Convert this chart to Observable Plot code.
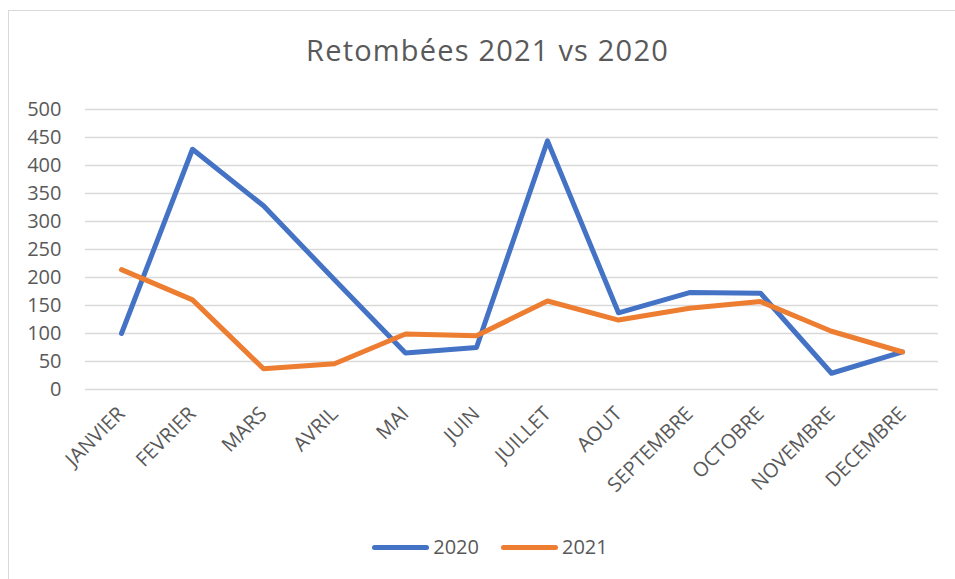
<!DOCTYPE html>
<html>
<head>
<meta charset="utf-8">
<script src="https://cdn.jsdelivr.net/npm/d3@7"></script>
<script src="https://cdn.jsdelivr.net/npm/@observablehq/plot@0.6"></script>
<style>
  html, body { margin: 0; padding: 0; background: #fff; }
  #chart { position: relative; width: 955px; height: 579px; overflow: hidden; font-family: "Open Sans", "Noto Sans", sans-serif; color: #595959; }
  #frame { position: absolute; left: 8px; top: 10px; width: 1000px; height: 700px; border: 1.5px solid #d9d9d9; box-sizing: border-box; }
  #title { position: absolute; left: 0; width: 975px; top: 30px; text-align: center; font-size: 29px; line-height: 40px; letter-spacing: 1.2px; }
  #plot { position: absolute; left: 0; top: 0; }
  #legend { position: absolute; left: 0; width: 980px; top: 533px; display: flex; justify-content: center; align-items: center; font-size: 20px; line-height: 28px; }
  .item { display: flex; align-items: center; margin: 0 11px; }
  .sw { width: 57px; height: 5px; border-radius: 3px; margin-right: 4px; }
</style>
</head>
<body>
<div id="chart">
  <div id="frame"></div>
  <div id="plot"></div>
  <div id="title">Retombées 2021 vs 2020</div>
  <div id="legend"></div>
</div>
<script>
const months = ["JANVIER","FEVRIER","MARS","AVRIL","MAI","JUIN","JUILLET","AOUT","SEPTEMBRE","OCTOBRE","NOVEMBRE","DECEMBRE"];
const series = ["2020","2021"];
const values2020 = [100,429,328,196,65,75,444,137,173,172,29,67];
const values2021 = [214,160,37,46,99,96,158,124,145,157,104,67];
const yTicks = [0,50,100,150,200,250,300,350,400,450,500];
const colors = ["#4472C4","#ED7D31"];

const data = [];
months.forEach((m, i) => data.push({month: m, year: "2020", value: values2020[i]}));
months.forEach((m, i) => data.push({month: m, year: "2021", value: values2021[i]}));

const chart = Plot.plot({
  width: 955,
  height: 500,
  marginTop: 109,
  marginBottom: 111,
  marginLeft: 85,
  marginRight: 17,
  style: {fontFamily: '"Open Sans", "Noto Sans", sans-serif', color: "#595959", background: "transparent"},
  x: {type: "point", domain: months, padding: 0.5},
  y: {domain: [0, 500]},
  color: {domain: series, range: colors},
  marks: [
    Plot.ruleY(yTicks, {stroke: "#d9d9d9", strokeWidth: 1.5}),
    Plot.axisY({ticks: yTicks, tickSize: 0, tickPadding: 24, fontSize: 20, fill: "#595959", label: null}),
    Plot.axisX({tickSize: 0, tickPadding: 21, tickRotate: -45, fontSize: 20, fill: "#595959", label: null}),
    Plot.line(data, {x: "month", y: "value", z: "year", stroke: "year", strokeWidth: 5, strokeLinejoin: "round", strokeLinecap: "round"})
  ]
});
document.getElementById("plot").appendChild(chart);

const legend = document.getElementById("legend");
series.forEach((s, i) => {
  const item = document.createElement("div");
  item.className = "item";
  const sw = document.createElement("div");
  sw.className = "sw";
  sw.style.background = colors[i];
  const t = document.createElement("span");
  t.textContent = s;
  item.appendChild(sw);
  item.appendChild(t);
  legend.appendChild(item);
});
</script>
</body>
</html>
